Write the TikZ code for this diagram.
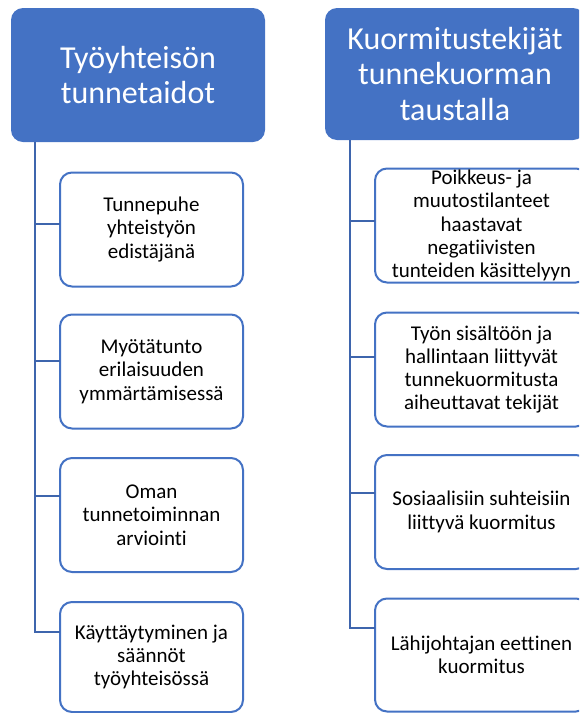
\documentclass[tikz,border=0pt]{standalone}
\usepackage{fontspec}
\setmainfont[Ligatures=NoCommon]{Carlito}
\definecolor{accent}{HTML}{4472C4}
\definecolor{linkblue}{HTML}{3E65AD}
\begin{document}
\begin{tikzpicture}[x=1pt,y=-1pt,
  header/.style={fill=accent, rounded corners=12pt, text=white, align=center,
    font=\fontsize{32}{35.5}\selectfont, inner sep=0pt, outer sep=0pt},
  item/.style={draw=accent, line width=2pt, fill=white, rounded corners=12pt,
    align=center, font=\fontsize{21}{23.3}\selectfont, inner sep=0pt, outer sep=0pt,
    text=black},
  link/.style={draw=linkblue, line width=2.6pt}]
\useasboundingbox (0,0) rectangle (579,713);
\clip (0,0) rectangle (579,713);

% left column
\node[header, minimum width=254pt, minimum height=134pt] (lh) at (138,75)
  {Työyhteisön\\tunnetaidot};
\node[item, minimum width=183pt, minimum height=114pt] (l1) at (151.5,229.5)
  {Tunnepuhe\\yhteistyön\\edistäjänä};
\node[item, minimum width=183pt, minimum height=114pt] (l2) at (151.5,371.5)
  {Myötätunto\\erilaisuuden\\ymmärtämisessä};
\node[item, minimum width=183pt, minimum height=114pt] (l3) at (151.5,515)
  {Oman\\tunnetoiminnan\\arviointi};
\node[item, minimum width=183pt, minimum height=110pt] (l4) at (151.5,657)
  {Käyttäytyminen ja\\säännöt\\työyhteisössä};

\coordinate (ltop) at (35,142);
\coordinate (lj1) at (35,224);
\coordinate (lj2) at (35,361);
\coordinate (lj3) at (35,496);
\coordinate (lj4) at (35,632);
\draw[link] (ltop) -- (lj4) -- (lj4 -| l4.west);
\foreach \i in {1,2,3} \draw[link] (lj\i) -- (lj\i -| l\i.west);

% right column
\node[header, minimum width=260pt, minimum height=132pt] (rh) at (455,74)
  {Kuormitustekijät\\tunnekuorman\\taustalla};
\node[item, minimum width=213pt, minimum height=114pt] (r1) at (481.5,225.5)
  {Poikkeus- ja\\muutostilanteet\\haastavat\\negatiivisten\\tunteiden käsittelyyn};
\node[item, minimum width=213pt, minimum height=114pt] (r2) at (481.5,369.5)
  {Työn sisältöön ja\\hallintaan liittyvät\\tunnekuormitusta\\aiheuttavat tekijät};
\node[item, minimum width=213pt, minimum height=114pt] (r3) at (481.5,512)
  {Sosiaalisiin suhteisiin\\liittyvä kuormitus};
\node[item, minimum width=213pt, minimum height=113pt] (r4) at (481.5,655)
  {Lähijohtajan eettinen\\kuormitus};

\coordinate (rtop) at (350,140);
\coordinate (rj1) at (350,221);
\coordinate (rj2) at (350,357);
\coordinate (rj3) at (350,493);
\coordinate (rj4) at (350,628);
\draw[link] (rtop) -- (rj4) -- (rj4 -| r4.west);
\foreach \i in {1,2,3} \draw[link] (rj\i) -- (rj\i -| r\i.west);
\end{tikzpicture}
\end{document}
